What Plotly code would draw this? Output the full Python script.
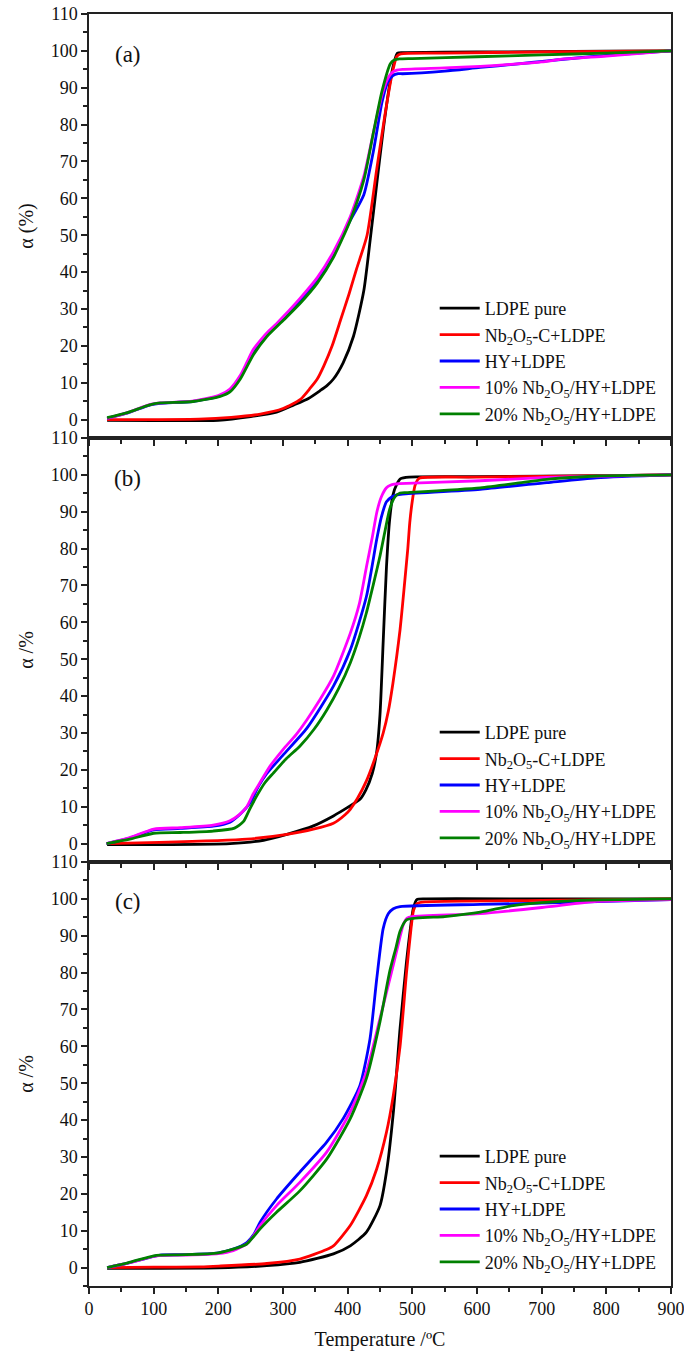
import plotly.graph_objects as go
from plotly.subplots import make_subplots

# ---------------- data ----------------
series_names = ["LDPE pure", "Nb<sub>2</sub>O<sub>5</sub>-C+LDPE", "HY+LDPE",
                "10% Nb<sub>2</sub>O<sub>5</sub>/HY+LDPE", "20% Nb<sub>2</sub>O<sub>5</sub>/HY+LDPE"]
series_colors = ["#000000", "#FF0000", "#0000FF", "#FF00FF", "#008000"]
panel_labels = ["(a)", "(b)", "(c)"]
y_titles = ["α (%)", "α /%", "α /%"]
x_title = "Temperature /ºC"

# panel (a)
a_ldpe_T = [28, 100, 200, 250, 290, 316, 340, 357, 368, 378, 393, 409, 425, 435, 445, 455, 466, 472, 477, 490, 600, 800, 900]
a_ldpe_y = [-0.2, -0.3, -0.2, 0.8, 2, 3.9, 5.8, 7.8, 9.2, 11, 15.4, 22.6, 35, 49, 64, 78.6, 92, 97, 99.4, 99.5, 99.7, 99.9, 100]
a_red_T = [28, 100, 170, 220, 265, 300, 327, 342, 353, 363, 376, 389, 402, 414, 430, 445, 458, 469, 476, 482, 550, 700, 900]
a_red_y = [0, 0, 0.1, 0.6, 1.5, 3, 5.5, 8.5, 11, 14.5, 20, 27, 34, 41, 50, 68, 83, 94, 98.5, 99.2, 99.4, 99.7, 100]
a_hy_T = [28, 60, 95, 110, 160, 200, 218, 234, 244, 254, 265, 275, 290, 301, 327, 353, 378, 404, 425, 440, 453, 462, 470, 478, 485, 550, 605, 660, 709, 750, 800, 900]
a_hy_y = [0.3, 1.8, 4.0, 4.4, 4.9, 6.3, 8.0, 11.5, 15, 18.5, 21, 23, 25.5, 27.5, 32.5, 38, 45, 54, 61, 73, 86, 91.5, 93.3, 93.8, 93.8, 94.5, 95.5, 96.4, 97.3, 98, 98.8, 100]
a_10_T = [28, 60, 95, 110, 160, 200, 218, 234, 244, 254, 265, 275, 290, 301, 327, 353, 378, 404, 425, 440, 453, 462, 470, 476, 485, 550, 605, 657, 700, 735, 800, 900]
a_10_y = [0.3, 1.9, 4.1, 4.5, 5.0, 6.5, 8.3, 12, 15.5, 19, 21.5, 23.5, 26, 28, 33, 38.5, 45.5, 55, 66, 78, 88, 92.5, 94.3, 94.8, 95, 95.4, 95.8, 96.4, 97, 97.8, 98.6, 100]
a_20_T = [28, 58, 94, 110, 161, 203, 218, 234, 254, 275, 301, 327, 353, 378, 404, 425, 440, 453, 466, 472, 480, 500, 600, 700, 800, 900]
a_20_y = [0.5, 1.8, 4.0, 4.5, 4.9, 6.3, 7.5, 11, 17.5, 22.5, 27, 31.6, 37, 44, 54, 65, 78, 89, 96.5, 97.5, 97.8, 97.9, 98.4, 98.9, 99.4, 100]

# panel (b)
b_ldpe_T = [28, 100, 218, 270, 306, 347, 378, 400, 419, 428, 438, 445, 450, 455, 460, 465, 470, 476, 482, 495, 600, 800, 900]
b_ldpe_y = [-0.3, -0.3, 0, 0.9, 2.5, 4.8, 7.5, 9.8, 12, 14.5, 19, 25, 35, 55, 75, 88, 94.5, 97.5, 99, 99.4, 99.5, 99.8, 100]
b_red_T = [28, 109, 244, 306, 347, 378, 396, 404, 415, 429, 442, 455, 463, 470, 476, 481, 485, 489, 493, 496, 500, 504, 508, 512, 600, 800, 900]
b_red_y = [0, 0.3, 1.2, 2.5, 3.9, 5.5, 7.8, 9.3, 12.2, 17, 23, 30, 36, 43.5, 51, 58, 65, 72.5, 80, 87, 93, 97, 98.6, 99.2, 99.4, 99.8, 100]
b_hy_T = [27, 63, 100, 141, 192, 218, 234, 249, 262, 275, 300, 337, 378, 404, 429, 445, 452, 460, 468, 476, 485, 605, 708, 785, 900]
b_hy_y = [0, 1.5, 3.7, 4.1, 4.7, 5.8, 8, 11, 15.5, 19, 24, 31.3, 42.7, 52.5, 67, 82.6, 88.5, 92.7, 94, 94.6, 94.8, 96.1, 97.9, 99.2, 100]
b_10_T = [27, 63, 100, 141, 192, 218, 232, 244, 254, 264, 280, 300, 320, 337, 357, 378, 404, 418, 429, 438, 445, 452, 460, 466, 472, 480, 605, 708, 800, 900]
b_10_y = [0, 1.6, 3.9, 4.3, 5.0, 6.2, 7.8, 10, 13.5, 16.4, 21, 25.5, 29.5, 33.6, 39, 45.4, 57, 65, 75, 83, 89.8, 94, 96.5, 97.2, 97.5, 97.6, 98.4, 99.3, 99.7, 100]
b_20_T = [27, 63, 100, 141, 192, 225, 239, 249, 259, 272, 285, 305, 326, 348, 368, 386, 404, 418, 429, 440, 450, 458, 465, 473, 481, 491, 605, 660, 708, 785, 900]
b_20_y = [0, 1.2, 2.8, 3.0, 3.4, 4.2, 6.0, 9.5, 12.8, 16.5, 19.1, 23, 26.4, 31, 36.3, 42, 49, 56, 62.6, 70.5, 78, 85, 90.7, 94, 95.1, 95.2, 96.5, 97.7, 98.8, 99.7, 100]

# panel (c)
c_ldpe_T = [28, 100, 200, 275, 326, 378, 404, 429, 450, 460, 470.6, 481, 491, 497, 501.5, 507, 520, 700, 900]
c_ldpe_y = [-0.2, -0.2, -0.1, 0.5, 1.4, 3.7, 5.9, 9.6, 16.8, 25.9, 42, 64.8, 83, 92, 97.4, 99.8, 100, 100, 100]
c_red_T = [28, 100, 172, 201, 275, 326, 367.5, 378, 404, 429, 445, 460, 470.6, 481, 491, 498, 502, 508, 520, 700, 900]
c_red_y = [0, 0.1, 0.2, 0.4, 1.1, 2.3, 4.9, 5.9, 11.4, 19.5, 26.8, 36.7, 46.7, 60, 80, 92, 97, 98.8, 99.2, 99.6, 100]
c_hy_T = [28, 60, 100, 110, 150, 200, 223, 244, 255, 264.6, 290, 326, 367.5, 393, 419, 434.5, 445, 455, 463, 470.6, 481, 605, 759, 900]
c_hy_y = [0, 1.2, 3.0, 3.4, 3.5, 4.0, 5.0, 6.8, 9, 12.3, 18.6, 25.9, 34, 40.4, 49.4, 62, 78.4, 92, 96, 97.3, 97.9, 98.5, 99.1, 99.8]
c_10_T = [28, 60, 100, 110, 150, 200, 223, 244, 254, 264.6, 290, 326, 367.5, 404, 429, 450, 470.6, 480, 486, 492, 500, 605, 708, 785, 900]
c_10_y = [0, 1.2, 3.0, 3.3, 3.4, 3.8, 4.6, 6.4, 8.5, 11.4, 16.8, 23.1, 31.3, 42.2, 53.1, 67.6, 82.1, 89, 93, 94.8, 95.2, 96, 97.8, 99.3, 99.8]
c_20_T = [28, 60, 100, 110, 150, 200, 223, 244, 254, 264.6, 290, 326, 367.5, 404, 429, 450, 465, 475, 481, 491, 550, 605, 656, 700, 759, 900]
c_20_y = [0, 1.3, 3.2, 3.4, 3.5, 4.0, 5.0, 6.4, 8.3, 10.5, 15, 20.8, 29.4, 40.4, 51.3, 66.7, 80.3, 87, 91.2, 94.3, 95.2, 96.4, 98.2, 99, 99.6, 100]

panels = [
    [(a_ldpe_T, a_ldpe_y), (a_red_T, a_red_y), (a_hy_T, a_hy_y), (a_10_T, a_10_y), (a_20_T, a_20_y)],
    [(b_ldpe_T, b_ldpe_y), (b_red_T, b_red_y), (b_hy_T, b_hy_y), (b_10_T, b_10_y), (b_20_T, b_20_y)],
    [(c_ldpe_T, c_ldpe_y), (c_red_T, c_red_y), (c_hy_T, c_hy_y), (c_10_T, c_10_y), (c_20_T, c_20_y)],
]

# ---------------- figure ----------------
FONT = "Liberation Serif"
fig = make_subplots(rows=3, cols=1, shared_xaxes=True, vertical_spacing=0)

legend_ids = ["legend", "legend2", "legend3"]
for r, panel in enumerate(panels):
    for i, (T, y) in enumerate(panel):
        fig.add_trace(go.Scatter(x=T, y=y, mode="lines", name=series_names[i],
                                 line=dict(color=series_colors[i], width=2.8, shape="spline", smoothing=0.6),
                                 legend=legend_ids[r]),
                      row=r + 1, col=1)

axis_common = dict(showline=True, linecolor="#222", linewidth=1.5, mirror=True,
                   ticks="outside", ticklen=6, tickwidth=1.5, tickcolor="#222",
                   showgrid=False, zeroline=False, automargin=False,
                   ticklabeloverflow="allow",
                   tickfont=dict(family=FONT, size=18, color="#111"))

for r in range(3):
    fig.update_xaxes(range=[0, 900], dtick=100, tick0=0,
                     minor=dict(dtick=50, ticks="outside", ticklen=4, tickwidth=1.5, tickcolor="#222"),
                     row=r + 1, col=1, **axis_common)
    fig.update_yaxes(range=[-5, 110], dtick=10, tick0=0,
                     minor=dict(dtick=5, ticks="outside", ticklen=4, tickwidth=1.5, tickcolor="#222"),
                     title=dict(text=y_titles[r], font=dict(family=FONT, size=20, color="#111"), standoff=12),
                     row=r + 1, col=1, **axis_common)

fig.update_xaxes(title=dict(text=x_title, font=dict(family=FONT, size=20, color="#111"), standoff=20),
                 row=3, col=1)

legend_common = dict(x=0.594, xanchor="left", yanchor="top", bgcolor="rgba(0,0,0,0)",
                     font=dict(family=FONT, size=18, color="#111"), itemwidth=40,
                     tracegroupgap=0)
top = 0.783
offsets = [top, top - 1 / 3, top - 2 / 3]
fig.update_layout(
    legend=dict(y=offsets[0], **legend_common),
    legend2=dict(y=offsets[1], **legend_common),
    legend3=dict(y=offsets[2], **legend_common),
)

label_y = [0.968, 0.635, 0.302]
for r in range(3):
    fig.add_annotation(text=panel_labels[r], xref="paper", yref="paper",
                       x=0.067, y=label_y[r], xanchor="center", yanchor="middle",
                       showarrow=False, font=dict(family=FONT, size=23, color="#111"))

fig.update_layout(width=684, height=1351, plot_bgcolor="white", paper_bgcolor="white",
                  margin=dict(l=89, r=13, t=14, b=65), showlegend=True,
                  font=dict(family=FONT, color="#111"))

# remove the default 8px page margin so the figure fills the window exactly
fig.write_html("out.html", config={"displayModeBar": False},
               post_script="document.body.style.margin='0';")
